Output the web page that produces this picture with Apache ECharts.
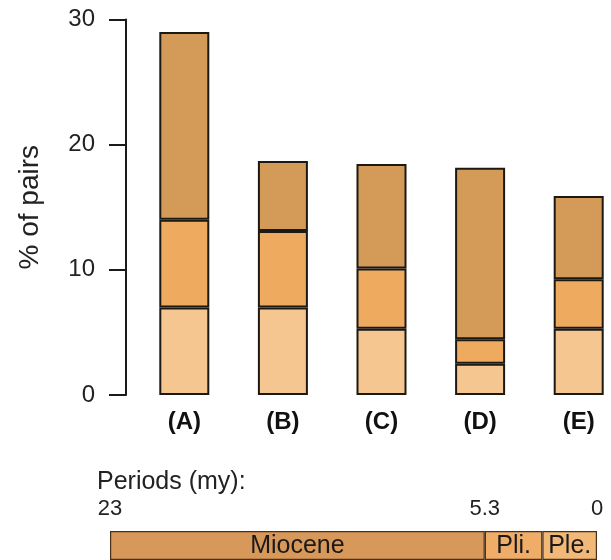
<!DOCTYPE html>
<html>
<head>
<meta charset="utf-8">
<script src="https://cdn.jsdelivr.net/npm/echarts@6/dist/echarts.min.js"></script>
<style>
  html, body { margin: 0; padding: 0; background: #fff; }
  #main { width: 611px; height: 560px; }
</style>
</head>
<body>
<div id="main"></div>
<script>
// ---- data
var categories = ['(A)', '(B)', '(C)', '(D)', '(E)'];
var lowPart = [7, 7, 5.3, 2.5, 5.3];
var midPart = [7, 6.1, 4.8, 1.95, 3.95];
var topPart = [15, 5.6, 8.35, 13.7, 6.65];
var yTicks = [0, 10, 20, 30];

// ---- geological periods (my), oldest first
var periodNames = ['Miocene', 'Pli.', 'Ple.'];
var periodLength = [17.7, 2.72, 2.58];
var periodTicks = [23, 5.3, 0];

var FONT = '"Liberation Sans", Arial, Helvetica, sans-serif';
var segColors = ['#f5c68f', '#eeaa5f', '#d49a58'];
var periodColors = ['#d8985a', '#efad68', '#f2b877'];

window.myChart = echarts.init(document.getElementById('main'));

function stackSeries(name, data, color) {
    return {
        name: name,
        type: 'bar',
        stack: 'pairs',
        xAxisIndex: 0,
        yAxisIndex: 0,
        barWidth: 50,
        clip: false,
        data: data,
        itemStyle: { color: color, borderColor: '#1c1814', borderWidth: 2 },
        silent: true
    };
}

function periodSeries(i) {
    return {
        type: 'bar',
        stack: 'periods',
        xAxisIndex: 1,
        yAxisIndex: 1,
        barWidth: '100%',
        data: [periodLength[i]],
        itemStyle: { color: periodColors[i], borderColor: '#4a3018', borderWidth: 1.2 },
        label: {
            show: true,
            position: 'inside',
            formatter: periodNames[i],
            color: '#1a1a1a',
            fontFamily: FONT,
            fontSize: 25,
            offset: [0, 1]
        },
        silent: true
    };
}

// stacking starts at 0 (right side, axis inverted), so youngest first
var periodList = [];
for (var i = periodNames.length - 1; i >= 0; i--) {
    periodList.push(periodSeries(i));
}

var option = {
    animation: false,
    backgroundColor: '#fff',
    title: {
        text: 'Periods (my):',
        left: 92,
        top: 465,
        textStyle: { fontFamily: FONT, fontSize: 25, fontWeight: 'normal', color: '#222' }
    },
    grid: [
        { left: 184.3, right: 32.3, top: 19.5, height: 375.5 },
        { left: 110, right: 14, top: 531, height: 34 }
    ],
    xAxis: [
        {
            gridIndex: 0,
            type: 'category',
            data: categories,
            boundaryGap: false,
            axisLine: { show: false },
            axisTick: { show: false },
            axisLabel: {
                margin: 15,
                fontFamily: FONT,
                fontSize: 24,
                fontWeight: 'bold',
                color: '#111'
            }
        },
        {
            gridIndex: 1,
            type: 'value',
            min: 0,
            max: 23,
            inverse: true,
            position: 'top',
            axisLine: { show: false },
            axisTick: { show: false },
            splitLine: { show: false },
            axisLabel: {
                customValues: periodTicks,
                margin: 11,
                fontFamily: FONT,
                fontSize: 22,
                color: '#222',
                showMinLabel: true,
                showMaxLabel: true
            }
        }
    ],
    yAxis: [
        {
            gridIndex: 0,
            type: 'value',
            min: 0,
            max: 30,
            interval: 10,
            offset: 58.3,
            name: '% of pairs',
            nameLocation: 'middle',
            nameGap: 82,
            nameTextStyle: { fontFamily: FONT, fontSize: 28, color: '#222' },
            axisLine: { show: true, lineStyle: { color: '#1a1a1a', width: 2 } },
            axisTick: { show: true, length: 17, lineStyle: { color: '#1a1a1a', width: 2 } },
            splitLine: { show: false },
            axisLabel: {
                customValues: yTicks,
                margin: 31,
                fontFamily: FONT,
                fontSize: 24,
                color: '#222'
            }
        },
        {
            gridIndex: 1,
            type: 'category',
            data: ['periods'],
            show: false
        }
    ],
    series: [
        stackSeries('low', lowPart, segColors[0]),
        stackSeries('mid', midPart, segColors[1]),
        stackSeries('top', topPart, segColors[2])
    ].concat(periodList)
};

myChart.setOption(option);
</script>
</body>
</html>
